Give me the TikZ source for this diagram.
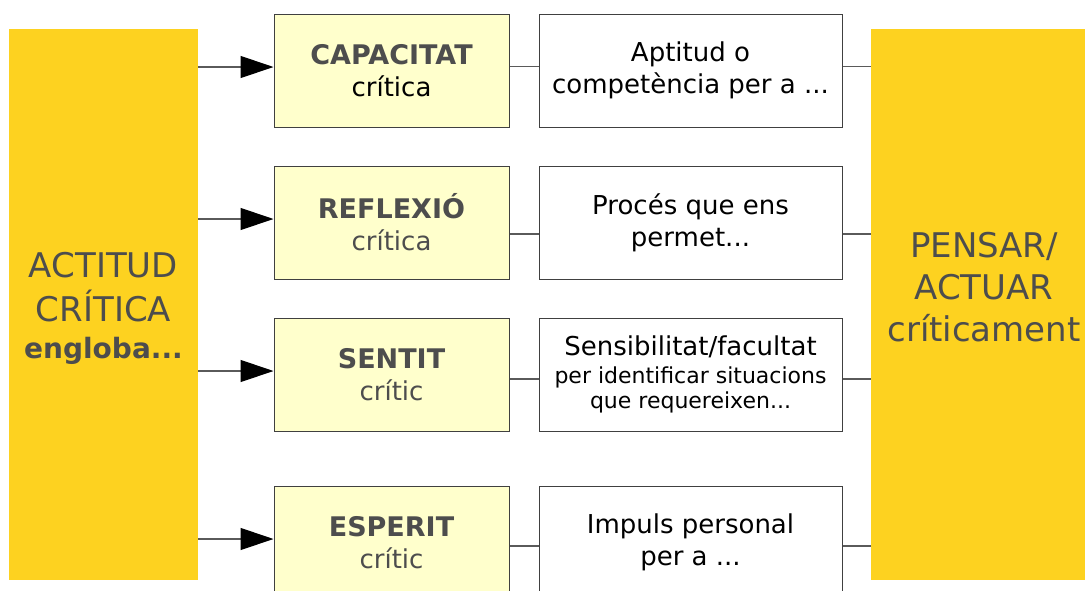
\documentclass[tikz,border=0pt]{standalone}
\usepackage{fontspec}
\setmainfont{DejaVu Sans}
\usepackage{xcolor}
\usepackage{tikz}
\usetikzlibrary{arrows.meta}
\usetikzlibrary{positioning}

\definecolor{barYellow}{HTML}{FDD220}
\definecolor{boxYellow}{HTML}{FFFFCC}
\definecolor{textGray}{HTML}{4D4D4D}
\definecolor{lineGray}{HTML}{5A5A5A}

\newcommand{\headword}[1]{{\fontsize{27}{32}\selectfont\bfseries #1}}

\tikzset{
  bar/.style={fill=barYellow, text=textGray, minimum height=551pt, inner sep=0pt, align=center},
  concept/.style={draw=black!75, fill=boxYellow, line width=1pt, minimum width=235pt,
    minimum height=113pt, inner sep=0pt, align=center, text=textGray,
    font=\fontsize{26}{32}\selectfont},
  meaning/.style={draw=black!75, fill=white, line width=1pt, minimum width=303pt,
    minimum height=113pt, inner sep=0pt, align=center, font=\fontsize{26}{32}\selectfont},
  link/.style={draw=lineGray, line width=1.2pt},
  feed/.style={link, -{Triangle[length=33pt, width=22pt, color=black]}},
}

\begin{document}
\begin{tikzpicture}[x=1pt, y=-1pt]

    \useasboundingbox (0,0) rectangle (1085,590);

    % Bars

    \node[bar, minimum width=189pt, font=\fontsize{34}{44}\selectfont] (actitud) at (103.5,304.5)
        {\rule{0pt}{33pt}ACTITUD\\CRÍTICA\\[-7pt]{\fontsize{28}{34}\selectfont\bfseries engloba...}}; %
    \node[bar, minimum width=214pt] (pensar) at (978,304.5) {}; %
    \node[text=textGray, align=center, font=\fontsize{34}{42}\selectfont] (pensartext) at (984,287)
        {PENSAR/\\ACTUAR\\críticament}; %

    % Concepts

    \node[concept]                          (capacitat) at (391.5,70.5) {\headword{CAPACITAT}\\{\color{black}crítica}}; %
    \node[concept, below=38pt of capacitat] (reflexio) {\headword{REFLEXIÓ}\\crítica}; %
    \node[concept, below=38pt of reflexio]  (sentit)   {\headword{SENTIT}\\crític}; %
    \node[concept, below=54pt of sentit]    (esperit)  {\headword{ESPERIT}\\crític}; %

    % Meanings

    \node[meaning, right=29pt of capacitat] (aptitud) {Aptitud o\\competència per a ...}; %
    \node[meaning, right=29pt of reflexio]  (proces)  {Procés que ens\\permet...}; %
    \node[meaning, right=29pt of sentit]    (sensibilitat)
        {Sensibilitat/facultat\\[-4pt]{\fontsize{22}{26}\selectfont per identificar situacions}\\[-7pt]%
         {\fontsize{22}{26}\selectfont que requereixen...}}; %
    \node[meaning, right=29pt of esperit]   (impuls)  {Impuls personal\\per a ...}; %

    % Arrows

    \coordinate (capin) at ([yshift=3.5pt]capacitat.west);
    \coordinate (refin) at ([yshift=3.5pt]reflexio.west);
    \coordinate (senin) at ([yshift=3.5pt]sentit.west);
    \coordinate (espin) at ([yshift=3.5pt]esperit.west);

    \draw[feed] (actitud.east |- capin) -- (capin);
    \draw[feed] (actitud.east |- refin) -- (refin);
    \draw[feed] (actitud.east |- senin) -- (senin);
    \draw[feed] (actitud.east |- espin) -- (espin);

    % Links

    \coordinate (caplink) at ([yshift=4pt]capacitat.east);
    \coordinate (reflink) at ([yshift=-11.5pt]reflexio.east);
    \coordinate (senlink) at ([yshift=-4.5pt]sentit.east);
    \coordinate (esplink) at ([yshift=-3.5pt]esperit.east);

    \draw[link] (caplink) -- (caplink -| aptitud.west);
    \draw[link] (reflink) -- (reflink -| proces.west);
    \draw[link] (senlink) -- (senlink -| sensibilitat.west);
    \draw[link] (esplink) -- (esplink -| impuls.west);

    \draw[link] (caplink -| aptitud.east)      -- (caplink -| pensar.west);
    \draw[link] (reflink -| proces.east)       -- (reflink -| pensar.west);
    \draw[link] (senlink -| sensibilitat.east) -- (senlink -| pensar.west);
    \draw[link] (esplink -| impuls.east)       -- (esplink -| pensar.west);

\end{tikzpicture}
\end{document}
